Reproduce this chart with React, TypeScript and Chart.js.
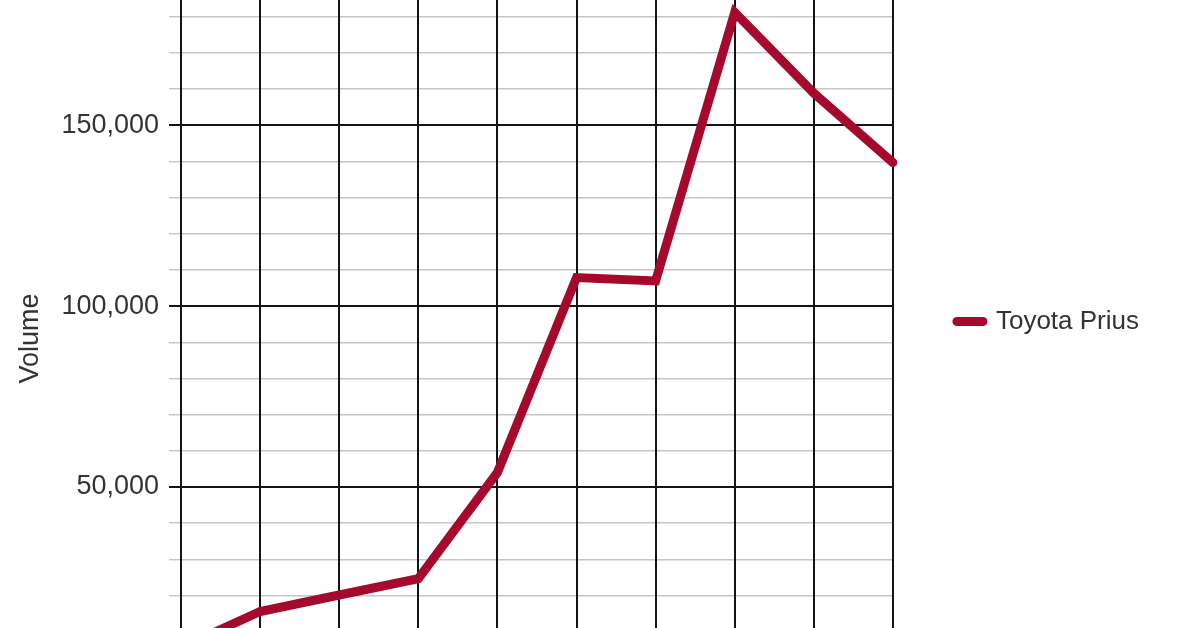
import { useEffect, useRef } from "react"
import { Chart, registerables } from "chart.js"

Chart.register(...registerables)

const years = ["2000", "2001", "2002", "2003", "2004", "2005", "2006", "2007", "2008", "2009"]
const priusVolume = [5562, 15556, 20119, 24627, 53991, 107897, 106971, 181221, 158884, 139682]
const seriesName = "Toyota Prius"
const axisTitle = "Volume"
const labelledTicks = [0, 50000, 100000, 150000, 200000]

// visible part of the value axis (the picture is a crop of a taller chart)
const Y_MIN = -13900
const Y_MAX = 196000
const MINOR_STEP = 10000

const FONT = "'Liberation Sans', Arial, sans-serif"
const TEXT = "#333333"
const RED = "#a5092b"
const DARK = "#141414"
const LIGHT = "#c6c6c6"

const isMajor = (v: number | undefined) => v !== undefined && labelledTicks.includes(v)

export default function App() {
  const chartRef = useRef<HTMLCanvasElement>(null)
  const chartInstance = useRef<Chart | null>(null)

  useEffect(() => {
    if (!chartRef.current) return
    if (chartInstance.current) chartInstance.current.destroy()

    const ctx = chartRef.current.getContext("2d")
    if (!ctx) return

    chartInstance.current = new Chart(ctx, {
      type: "line",
      data: {
        labels: years,
        datasets: [
          {
            label: seriesName,
            data: priusVolume,
            borderColor: RED,
            backgroundColor: RED,
            borderWidth: 9,
            borderCapStyle: "round",
            borderJoinStyle: "miter",
            pointRadius: 0,
            tension: 0,
            fill: false,
          },
        ],
      },
      options: {
        animation: false,
        responsive: true,
        maintainAspectRatio: false,
        events: [],
        layout: { padding: { right: 51 } },
        plugins: {
          tooltip: { enabled: false },
          legend: {
            position: "right",
            labels: {
              usePointStyle: true,
              pointStyle: "line",
              pointStyleWidth: 26,
              padding: 64,
              color: TEXT,
              font: { family: FONT, size: 26 },
              generateLabels: (chart) =>
                Chart.defaults.plugins.legend.labels
                  .generateLabels(chart)
                  .map((item) => ({ ...item, lineCap: "round", lineWidth: 9, strokeStyle: RED })),
            },
          },
        },
        scales: {
          x: {
            offset: false,
            ticks: { display: false },
            grid: { color: DARK, lineWidth: 2, drawTicks: false, z: -0.5 },
            border: { display: false },
          },
          y: {
            min: Y_MIN,
            max: Y_MAX,
            afterBuildTicks: (scale: any) => {
              const ticks = []
              for (let v = Math.ceil(Y_MIN / MINOR_STEP) * MINOR_STEP; v <= Y_MAX; v += MINOR_STEP) {
                ticks.push({ value: v })
              }
              scale.ticks = ticks
            },
            afterFit: (scale: any) => {
              scale.width = 181
              scale.paddingTop = 34
              scale.paddingBottom = 0
            },
            ticks: {
              autoSkip: false,
              padding: 10,
              color: TEXT,
              font: { family: FONT, size: 27 },
              callback: (v) => (isMajor(Number(v)) ? Number(v).toLocaleString("en-US") : ""),
            },
            grid: {
              tickLength: 12,
              color: (c) => (isMajor(c.tick?.value) ? DARK : LIGHT),
              tickColor: (c) => (isMajor(c.tick?.value) ? DARK : LIGHT),
              lineWidth: (c) => (isMajor(c.tick?.value) ? 2 : 1.4),
            },
            border: { display: true, color: DARK, width: 2 },
            title: {
              display: true,
              text: axisTitle,
              color: TEXT,
              font: { family: FONT, size: 27 },
              padding: { top: 14, bottom: 0 },
            },
          },
        },
      },
    })

    return () => {
      if (chartInstance.current) {
        chartInstance.current.destroy()
        chartInstance.current = null
      }
    }
  }, [])

  return (
    <div style={{ position: "fixed", left: 0, top: 0, width: 1200, height: 628, overflow: "hidden", background: "#fff" }}>
      <div style={{ position: "absolute", left: 0, top: -75, width: 1200, height: 793 }}>
        <canvas ref={chartRef} />
      </div>
    </div>
  )
}
